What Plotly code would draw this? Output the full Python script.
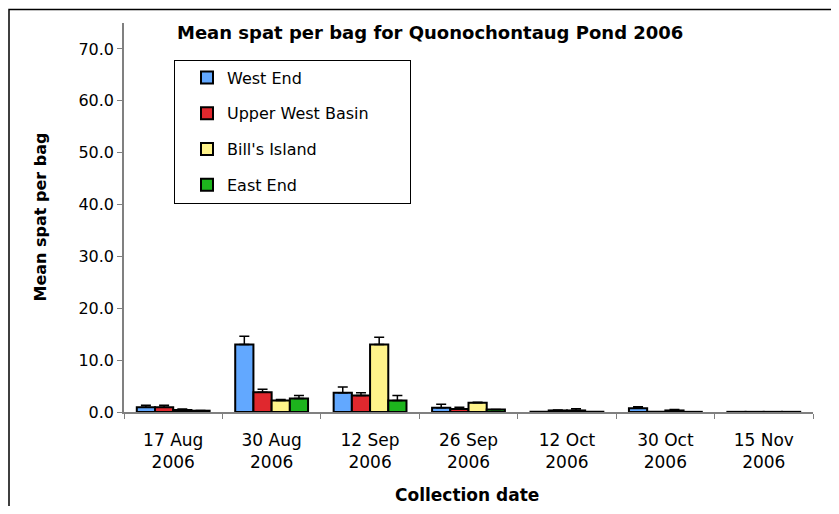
import plotly.graph_objects as go

# ─── Data ───────────────────────────────────────────────────────────────────
dates = ["17 Aug<br>2006", "30 Aug<br>2006", "12 Sep<br>2006", "26 Sep<br>2006",
         "12 Oct<br>2006", "30 Oct<br>2006", "15 Nov<br>2006"]

west_end = [0.9, 13.0, 3.7, 0.8, 0.05, 0.7, 0.03]
west_end_err = [0.4, 1.6, 1.1, 0.7, 0.0, 0.3, 0.0]

upper_west = [0.9, 3.8, 3.2, 0.6, 0.3, 0.05, 0.03]
upper_west_err = [0.4, 0.6, 0.5, 0.3, 0.1, 0.0, 0.0]

bills_island = [0.4, 2.2, 13.0, 1.8, 0.3, 0.3, 0.03]
bills_island_err = [0.2, 0.2, 1.4, 0.1, 0.35, 0.2, 0.0]

east_end = [0.25, 2.6, 2.2, 0.5, 0.05, 0.03, 0.03]
east_end_err = [0.05, 0.6, 1.0, 0.0, 0.0, 0.0, 0.0]

SERIES = [
    ("West End", west_end, west_end_err, "#62A8FF"),
    ("Upper West Basin", upper_west, upper_west_err, "#E0282E"),
    ("Bill's Island", bills_island, bills_island_err, "#FFF38A"),
    ("East End", east_end, east_end_err, "#1DB41D"),
]

FONT = "DejaVu Sans"

# page body has an 8px margin, so the figure is drawn 8px in from the corner
OFF = 8
W, H = 823, 498
L, T = 124 - OFF, 23 - OFF
PW, PH = 689, 389
ZERO_Y = 411.5 - OFF  # y pixel of value 0 inside the figure


def px_x(x):
    return (x - OFF - L) / PW


def px_y(y):
    return (ZERO_Y - (y - OFF)) / PH


fig = go.Figure()
for name, vals, errs, color in SERIES:
    fig.add_trace(go.Bar(
        name=name + "\u00a0" * 7,
        x=dates,
        y=vals,
        legendgroup=name,
        marker=dict(color=color, line=dict(color="black", width=2)),
        error_y=dict(type="data", array=errs, arrayminus=[0] * len(errs),
                     symmetric=False, color="black", thickness=1.5, width=5),
    ))

fig.update_layout(
    width=W,
    height=H,
    margin=dict(l=L, r=W - L - PW, t=T, b=H - T - PH),
    paper_bgcolor="white",
    plot_bgcolor="white",
    barmode="group",
    bargap=0.26,
    bargroupgap=0,
    font=dict(family=FONT, color="black"),
    showlegend=True,
    legend=dict(
        x=px_x(174), y=px_y(59), xanchor="left", yanchor="top",
        bordercolor="black", borderwidth=1, bgcolor="white",
        font=dict(family=FONT, size=16),
        tracegroupgap=12, indentation=12,
        traceorder="grouped",
    ),
    xaxis=dict(
        showline=True, linecolor="#808080", linewidth=1.5,
        ticks="outside", tickson="boundaries", ticklen=5, tickcolor="#808080",
        tickfont=dict(size=17), ticklabelstandoff=12,
        showgrid=False, zeroline=False,
    ),
    yaxis=dict(
        range=[0, 75], tickvals=[0, 10, 20, 30, 40, 50, 60, 70],
        tickformat=".1f",
        showline=True, linecolor="#808080", linewidth=1.5,
        ticks="outside", ticklen=5, tickcolor="#808080",
        tickfont=dict(size=16),
        showgrid=False, zeroline=False,
    ),
    annotations=[
        dict(text="<b>Mean spat per bag for Quonochontaug Pond 2006</b>",
             xref="paper", yref="paper", x=px_x(430), y=px_y(32),
             xanchor="center", yanchor="middle", showarrow=False,
             font=dict(size=18)),
        dict(text="<b>Mean spat per bag</b>", textangle=-90,
             xref="paper", yref="paper", x=px_x(40), y=0.5,
             xanchor="center", yanchor="middle", showarrow=False,
             font=dict(size=16)),
        dict(text="<b>Collection date</b>",
             xref="paper", yref="paper", x=px_x(467), y=px_y(494),
             xanchor="center", yanchor="middle", showarrow=False,
             font=dict(size=17)),
    ],
    shapes=[
        dict(type="rect", xref="paper", yref="paper",
             x0=px_x(OFF + 1), x1=1.2, y0=-0.5, y1=px_y(OFF + 1),
             line=dict(color="black", width=1.5), layer="below"),
    ],
)

fig.write_html("out.html")
